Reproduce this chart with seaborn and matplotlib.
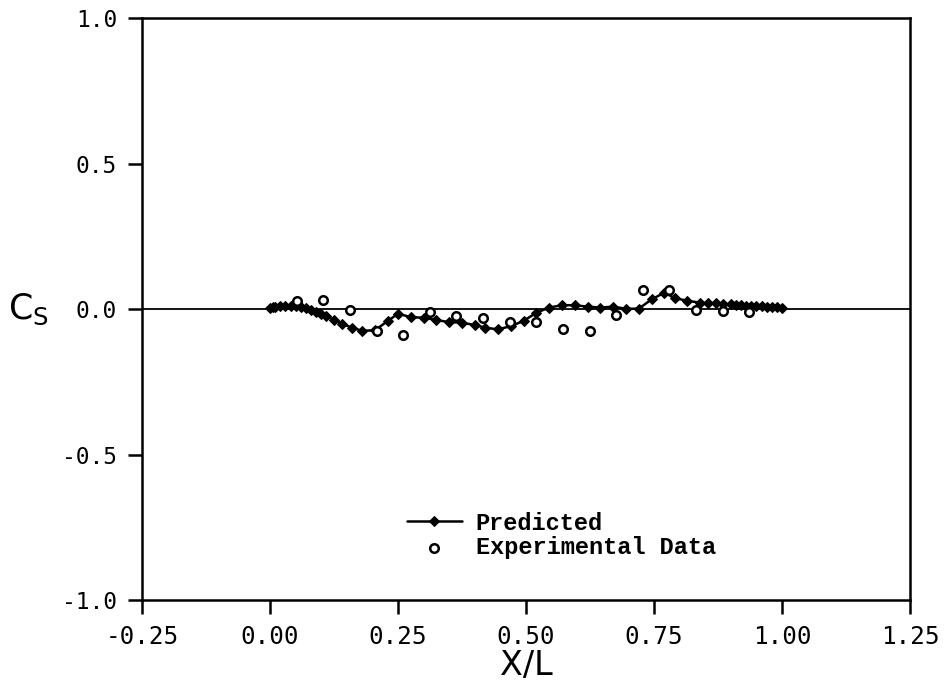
import numpy as np
import pandas as pd
import seaborn as sns
import matplotlib.pyplot as plt

# Predicted C_s distribution along X/L
pred_x = [0.0, 0.005, 0.01, 0.02, 0.03, 0.04, 0.05, 0.06, 0.07, 0.08, 0.09, 0.10,
          0.11, 0.125, 0.14, 0.16, 0.18, 0.205, 0.23, 0.25, 0.275, 0.30, 0.325,
          0.35, 0.375, 0.40, 0.42, 0.445, 0.47, 0.495, 0.52, 0.545, 0.57, 0.595,
          0.62, 0.645, 0.67, 0.695, 0.72, 0.745, 0.77, 0.79, 0.815, 0.84, 0.855,
          0.87, 0.885, 0.90, 0.91, 0.92, 0.93, 0.94, 0.95, 0.96, 0.97, 0.98,
          0.99, 1.0]
pred_cs = [0.004, 0.006, 0.008, 0.01, 0.011, 0.011, 0.01, 0.008, 0.004, -0.003,
           -0.009, -0.016, -0.024, -0.038, -0.05, -0.064, -0.075, -0.073, -0.041,
           -0.016, -0.028, -0.03, -0.038, -0.045, -0.047, -0.055, -0.064, -0.07,
           -0.059, -0.041, -0.013, 0.005, 0.013, 0.013, 0.008, 0.005, 0.008,
           0.001, 0.001, 0.033, 0.056, 0.038, 0.028, 0.022, 0.02, 0.019, 0.018,
           0.016, 0.015, 0.013, 0.012, 0.011, 0.01, 0.009, 0.008, 0.007, 0.006,
           0.005]

# Experimental data
exp_x = [0.052, 0.104, 0.156, 0.208, 0.26, 0.312, 0.364, 0.416, 0.468, 0.52,
         0.572, 0.624, 0.676, 0.728, 0.78, 0.832, 0.884, 0.936]
exp_cs = [0.028, 0.03, -0.003, -0.076, -0.09, -0.009, -0.024, -0.032, -0.044,
          -0.045, -0.068, -0.074, -0.022, 0.064, 0.064, -0.005, -0.007, -0.01]

x_ticks = [-0.25, 0.0, 0.25, 0.5, 0.75, 1.0, 1.25]
y_ticks = [-1.0, -0.5, 0.0, 0.5, 1.0]

pred = pd.DataFrame({"x": pred_x, "cs": pred_cs})
exp = pd.DataFrame({"x": exp_x, "cs": exp_cs})

sns.set_style("ticks")
plt.rcParams["font.family"] = ["DejaVu Sans Mono", "DejaVu Sans"]
plt.rcParams["text.color"] = "black"
plt.rcParams["axes.labelcolor"] = "black"

fig = plt.figure(figsize=(9.5, 6.87), dpi=100)
ax = fig.add_axes([0.1495, 0.1266, 0.8085, 0.8472])

ax.axhline(0, color="black", lw=1.3, zorder=1)
sns.lineplot(data=pred, x="x", y="cs", ax=ax, color="black", lw=1.8,
             marker="D", markersize=4.8, markeredgecolor="black",
             label="Predicted", zorder=3)
sns.scatterplot(data=exp, x="x", y="cs", ax=ax, marker="o", s=38,
                facecolors="white", edgecolor="black", linewidth=1.8,
                label="Experimental Data", zorder=4)

ax.set_xlim(-0.25, 1.25)
ax.set_ylim(-1.0, 1.0)
ax.set_xticks(x_ticks)
ax.set_xticklabels([f"{t:.2f}" for t in x_ticks])
ax.set_yticks(y_ticks)
ax.set_yticklabels([f"{t:.1f}" for t in y_ticks])
ax.tick_params(axis="both", direction="out", length=10, width=1.8,
               pad=8, colors="black")
ax.tick_params(axis="x", labelsize=17.5)
ax.tick_params(axis="y", labelsize=16.5)
for s in ax.spines.values():
    s.set_linewidth(1.8)
    s.set_color("black")

ax.set_xlabel("X/L", family="DejaVu Sans", fontsize=24, labelpad=0)
ax.set_ylabel(r"C$_\mathregular{S}$", family="DejaVu Sans", fontsize=25,
              rotation=0, labelpad=24, va="center")

leg = ax.legend(loc="upper left", bbox_to_anchor=(0.33, 0.172), frameon=False,
                prop={"family": "Liberation Mono", "size": 17, "weight": "bold"},
                handlelength=2.3, handletextpad=0.6, labelspacing=0.05,
                borderpad=0)
for t in leg.get_texts():
    t.set_color("black")

fig.savefig("out.png", dpi=100)
